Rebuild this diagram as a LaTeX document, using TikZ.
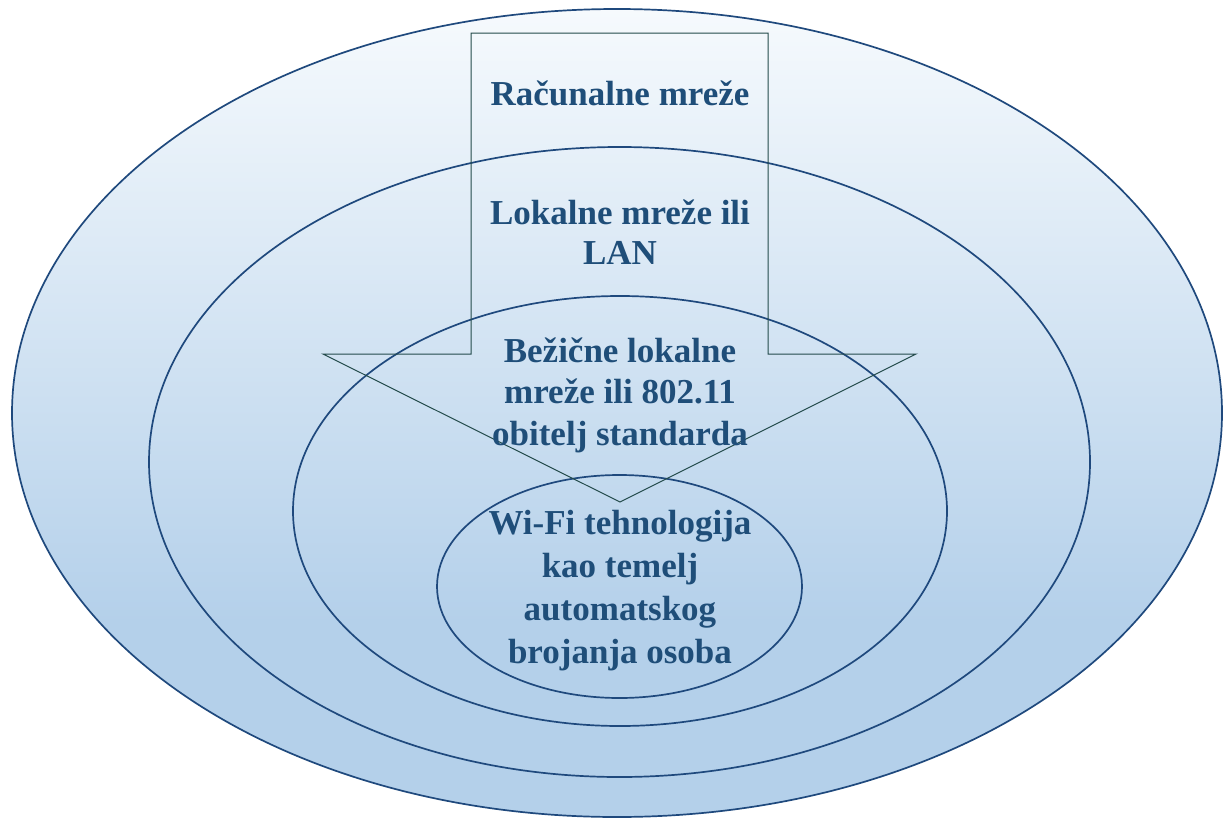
\documentclass[tikz,border=0pt]{standalone}
\usepackage{fontspec}
\setmainfont{Liberation Serif}
\usetikzlibrary{shapes.geometric}
\definecolor{bgtop}{RGB}{246,250,253}
\definecolor{bgbot}{RGB}{180,208,234}
\definecolor{ringline}{RGB}{31,73,125}
\definecolor{arrline}{RGB}{35,75,75}
\definecolor{txt}{RGB}{31,78,121}
\pgfdeclareverticalshading{ringshade}{100bp}{color(0bp)=(bgbot); color(37bp)=(bgbot); color(75bp)=(bgtop); color(100bp)=(bgtop)}
\begin{document}
\begin{tikzpicture}[x=1pt,y=-1pt,
  ring/.style={ellipse, draw=ringline, line width=1.7pt, inner sep=0pt},
  lbl/.style={anchor=base, align=center, text=txt, inner sep=0pt,
    font=\bfseries\fontsize{35}{41}\selectfont}]
\useasboundingbox (0,0) rectangle (1223,822);
\node[ring, shading=ringshade, minimum width=1210pt, minimum height=808pt] (outer) at (617,413) {};
\node[ring, minimum width=941pt, minimum height=630pt] (lan) at (619.5,462) {};
\node[ring, minimum width=654pt, minimum height=430pt] (wlan) at (620,511) {};
\node[ring, minimum width=365pt, minimum height=223pt] (wifi) at (619.5,586.5) {};
\draw[arrline, line width=1pt, line join=miter] (471,33) -- (768,33) -- (768,354) -- (916,354) -- (620,502) -- (323,354) -- (471,354) -- cycle;
\node[lbl] (t1) at (620,105) {Računalne mreže};
\node[lbl, font=\bfseries\fontsize{35}{40}\selectfont] (t2) at (620,264) {Lokalne mreže ili\\LAN};
\node[lbl, font=\bfseries\fontsize{35}{41.5}\selectfont] (t3) at (620,445) {Bežične lokalne\\mreže ili 802.11\\obitelj standarda};
\node[lbl, font=\bfseries\fontsize{35}{42.7}\selectfont] (t4) at (620,663) {Wi-Fi tehnologija\\kao temelj\\automatskog\\brojanja osoba};
\end{tikzpicture}
\end{document}
